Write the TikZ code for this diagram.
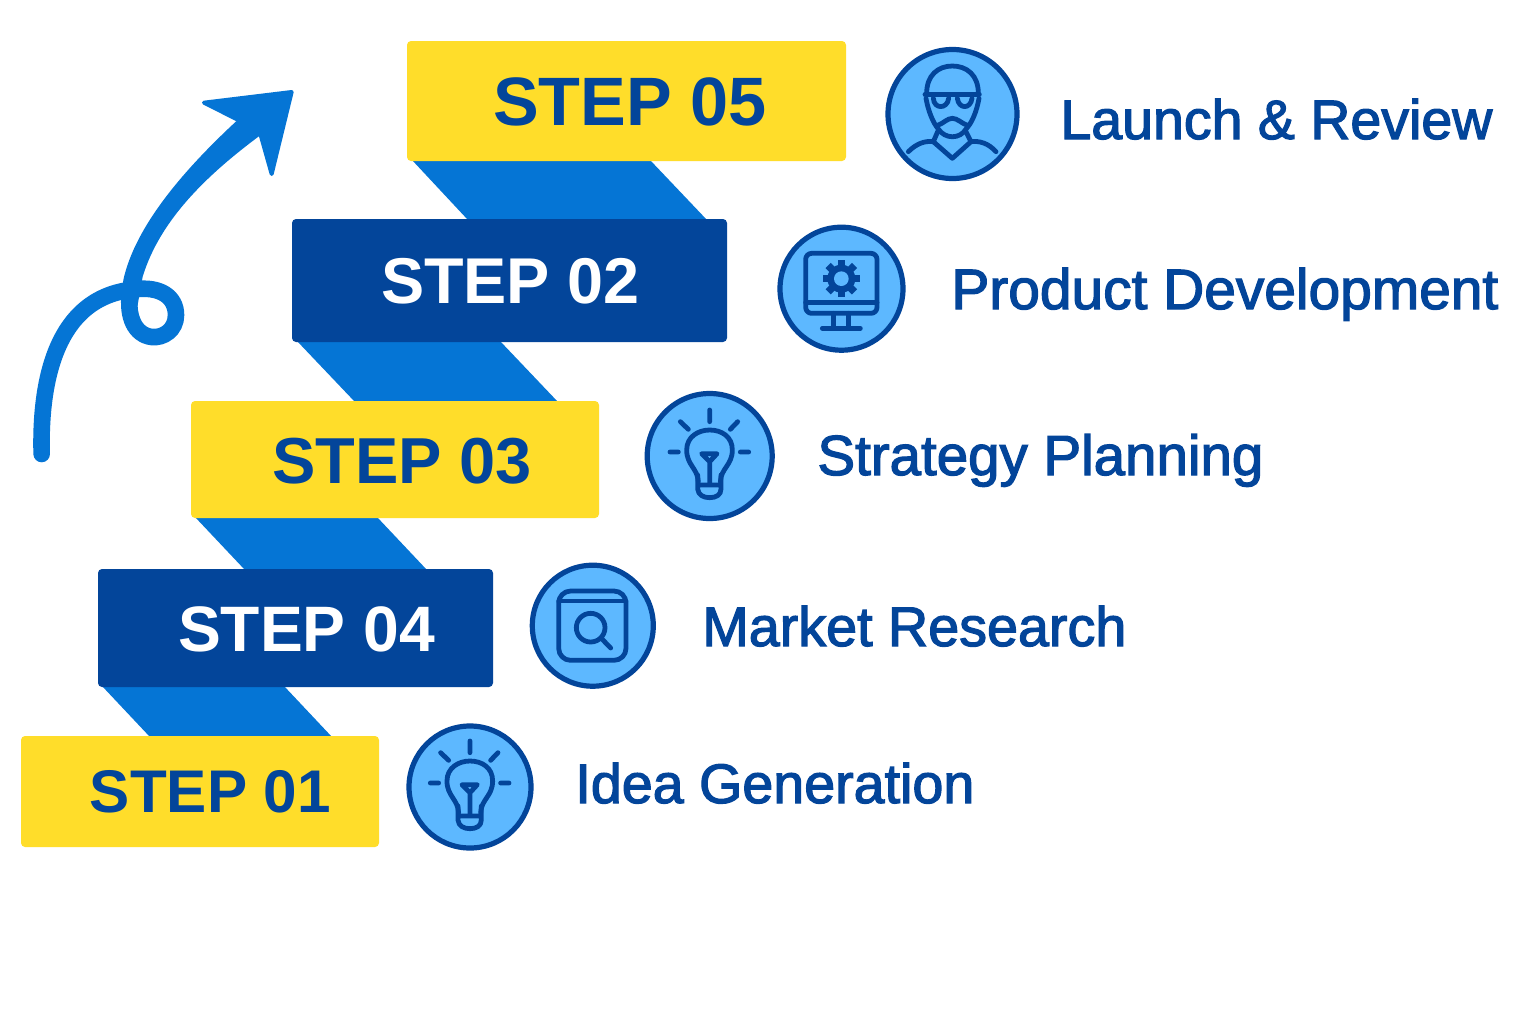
\documentclass[tikz,border=0pt]{standalone}
\usepackage{fontspec}
\setmainfont{Liberation Sans}
\newfontfamily\lblfont[FakeBold=2.2]{Liberation Sans}
\definecolor{sunny}{HTML}{FFDD2A}
\definecolor{navy}{HTML}{03459A}
\definecolor{ribbon}{HTML}{0575D5}
\definecolor{sky}{HTML}{5DB8FF}
\tikzset{
  stepbox/.style={rectangle,rounded corners=2pt,inner sep=0pt,outer sep=0pt},
  yellowbox/.style={stepbox,fill=sunny},
  navybox/.style={stepbox,fill=navy},
  ribbonband/.style={fill=ribbon},
  badge/.style={circle,draw=navy,fill=sky,line width=2.6pt,inner sep=0pt,outer sep=0pt},
  steptext/.style={anchor=base,inner sep=0pt,font=\bfseries\fontsize{34}{34}\selectfont},
  label/.style={anchor=base west,inner sep=0pt,text=navy},
  icon/.style={draw=navy,line width=2.4pt,line cap=round,line join=round},
  zoomed/.style 2 args={shift={(#1,#2)},scale=0.33333},
}
\newcommand{\fitw}[2]{\resizebox{\dimexpr#1pt/2\relax}{!}{\lblfont\fontsize{28}{28}\selectfont #2}}
\newcommand{\fits}[2]{\resizebox{\dimexpr#1pt/2\relax}{!}{\bfseries\fontsize{34}{34}\selectfont #2}}
\newcommand{\bulbicon}{%
  \draw[icon] (224,75)--(224,110) (136,110)--(160,133) (308,110)--(286,133)
    (105,201)--(130,201) (316,201)--(341,201);
  \draw[icon] (190,290) .. controls (188,250) and (155,240) .. (155,195)
    .. controls (155,155) and (190,135) .. (224,135)
    .. controls (260,135) and (292,155) .. (292,195)
    .. controls (292,240) and (258,250) .. (256,290);
  \draw[icon] (188,300)--(258,300) (188,270)--(188,312)
    .. controls (190,330) and (205,338) .. (224,338)
    .. controls (243,338) and (258,330) .. (258,312) -- (258,270);
  \draw[icon] (200,206)--(246,206)--(224,230)--cycle (224,230)--(224,298);
}
\begin{document}
\begin{tikzpicture}[x=0.5pt,y=-0.5pt]
\useasboundingbox (0,0) rectangle (1536,1024);
\fill[white] (0,0) rectangle (1536,1024);
% ribbons
\fill[ribbonband] (412,160)--(468,220)--(707,220)--(650,160)--cycle;
\fill[ribbonband] (297,341)--(355,402)--(558,402)--(500,341)--cycle;
\fill[ribbonband] (195,517)--(245,570)--(427,570)--(377,517)--cycle;
\fill[ribbonband] (102,686)--(150,737)--(332,737)--(284,686)--cycle;
% boxes
\node[yellowbox,minimum width=219.5pt,minimum height=60pt] (box5) at (626.5,101) {};
\node[navybox,minimum width=217.5pt,minimum height=61.5pt] (box2) at (509.5,280.5) {};
\node[yellowbox,minimum width=204pt,minimum height=58.5pt] (box3) at (395,459.5) {};
\node[navybox,minimum width=197.5pt,minimum height=59pt] (box4) at (295.5,628) {};
\node[yellowbox,minimum width=179pt,minimum height=55.5pt] (box1) at (200,791.5) {};
% step titles
\node[steptext,text=navy] (t5) at (630,125) {\fits{274}{STEP 05}};
\node[steptext,text=white] (t2) at (510.5,303) {\fits{259}{STEP 02}};
\node[steptext,text=navy] (t3) at (402,483) {\fits{260}{STEP 03}};
\node[steptext,text=white] (t4) at (306.5,651) {\fits{257}{STEP 04}};
\node[steptext,text=navy] (t1) at (210.5,812) {\fits{241}{STEP 01}};
% badges
\node[badge,minimum size=64.5pt] (c5) at (952.5,114) {};
\node[badge,minimum size=61.5pt] (c2) at (841.5,288.7) {};
\node[badge,minimum size=62.5pt] (c3) at (709.7,456) {};
\node[badge,minimum size=60.5pt] (c4) at (592.8,625.7) {};
\node[badge,minimum size=61pt] (c1) at (470,787) {};
% labels
\node[label] (l5) at (1060,139) {\fitw{432}{Launch \& Review}};
\node[label] (l2) at (951,309) {\fitw{547}{Product Development}};
\node[label] (l3) at (817,475) {\fitw{446}{Strategy Planning}};
\node[label] (l4) at (702,646) {\fitw{424}{Market Research}};
\node[label] (l1) at (575,803) {\fitw{399}{Idea Generation}};
% person icon
\begin{scope}[zoomed={870}{30}]
  \draw[icon] (170,190) .. controls (170,135) and (205,108) .. (247,108)
     .. controls (290,108) and (325,135) .. (325,190);
  \draw[icon] (165,193)--(328,193);
  \draw[icon] (190,205) .. controls (192,238) and (232,238) .. (236,205);
  \draw[icon] (262,205) .. controls (266,238) and (302,238) .. (306,205);
  \draw[icon] (168,205) .. controls (175,245) and (190,280) .. (205,297)
     .. controls (225,328) and (270,328) .. (288,297)
     .. controls (305,280) and (320,245) .. (327,205);
  \draw[icon] (205,285) .. controls (220,280) and (232,265) .. (247,265)
     .. controls (262,265) and (275,280) .. (290,285);
  \draw[icon] (203,305)--(190,335)--(247,385)--(303,335)--(288,305);
  \draw[icon] (115,365) .. controls (140,340) and (165,332) .. (190,335);
  \draw[icon] (303,335) .. controls (330,332) and (355,340) .. (378,365);
\end{scope}
% monitor icon
\begin{scope}[zoomed={765}{215}]
  \draw[icon,rounded corners=3pt] (122,115) rectangle (336,295);
  \draw[icon] (122,263)--(336,263);
  \draw[icon] (206,295)--(206,340) (250,295)--(250,340) (172,340)--(286,340);
  \fill[navy] (229,191) circle (42);
  \foreach \a in {0,45,...,315} {
    \fill[navy,rotate around={\a:(229,191)}] (218,135) rectangle (240,160);
  }
  \fill[sky] (229,191) circle (22);
\end{scope}
% bulb icons
\begin{scope}[zoomed={635}{385}]
  \bulbicon
\end{scope}
\begin{scope}[zoomed={395.3}{716}]
  \bulbicon
\end{scope}
% browser icon
\begin{scope}[zoomed={520}{555}]
  \draw[icon,rounded corners=6pt] (116,108) rectangle (318,316);
  \draw[icon] (116,138)--(318,138);
  \draw[icon] (212,218) circle (43);
  \draw[icon] (246,252)--(272,279);
\end{scope}
% arrow
\begin{scope}[zoomed={20}{80}]
  \draw[ribbon,line width=8.3pt,line cap=round]
    (65,1122) .. controls (60,930) and (95,650) .. (345,628)
    .. controls (420,618) and (468,650) .. (468,705)
    .. controls (468,750) and (430,775) .. (395,771)
    .. controls (345,765) and (320,710) .. (330,640);
  \fill[ribbon] (303,680)--(310,600)
    .. controls (345,440) and (490,270) .. (655,118)
    -- (722,165)
    .. controls (560,285) and (420,420) .. (368,590)
    -- (352,680) -- cycle;
  \fill[ribbon,draw=ribbon,line width=2pt,line join=round]
    (552,68)--(815,36)--(755,282)--(722,165)--(655,120)--cycle;
\end{scope}
\end{tikzpicture}
\end{document}
